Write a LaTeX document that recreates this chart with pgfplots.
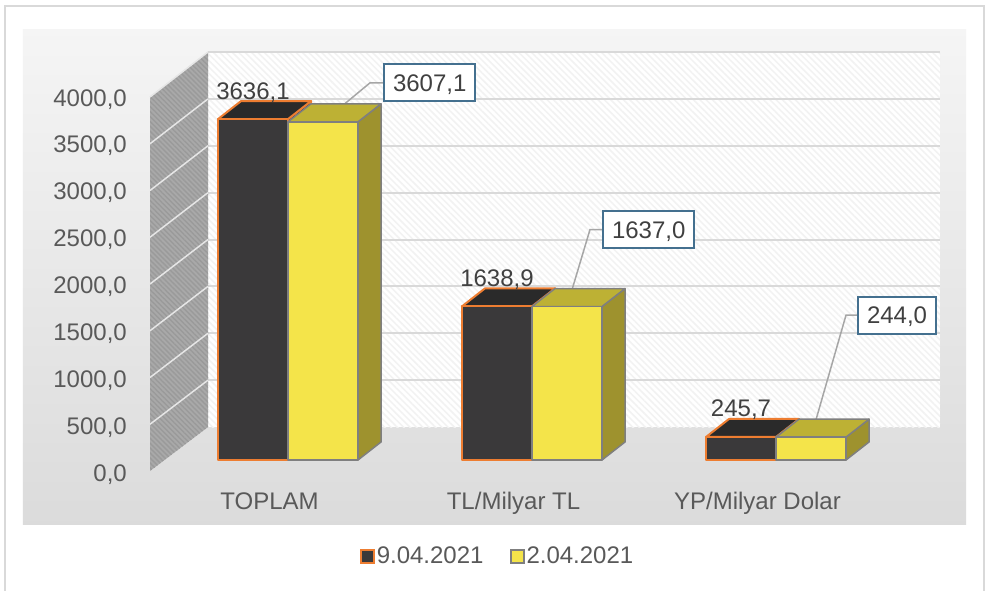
\documentclass[border=0pt]{standalone}
\usepackage{fontspec}
\setmainfont{Liberation Sans}
\usepackage{pgfplots}
\pgfplotsset{compat=1.18}
\usetikzlibrary{patterns.meta}
\pgfdeclarelayer{background}
\pgfsetlayers{background,main}
\definecolor{txt}{HTML}{595959}
\definecolor{lbl}{HTML}{404040}
\definecolor{darkfront}{HTML}{3A393A}
\definecolor{darktop}{HTML}{2A2A2A}
\definecolor{darkside}{HTML}{262626}
\definecolor{orangeedge}{HTML}{ED7D31}
\definecolor{yelfront}{HTML}{F4E44A}
\definecolor{yeltop}{HTML}{BDB134}
\definecolor{yelside}{HTML}{9E922E}
\definecolor{grayedge}{HTML}{7F7F7F}
\definecolor{boxedge}{HTML}{44708F}
\definecolor{leader}{HTML}{A6A6A6}
\definecolor{gridc}{HTML}{D9D9D9}
\definecolor{lwall}{HTML}{A9A9A9}
\definecolor{lwallstripe}{HTML}{9A9A9A}
\definecolor{lwallgrid}{HTML}{E6E6E6}
\definecolor{bwallstripe}{HTML}{F2F2F2}
\definecolor{framec}{HTML}{D9D9D9}
\newcommand{\ff}{\fontsize{24pt}{28pt}\selectfont}
\pgfdeclareplotmark{nothing}{}
% #1 xl, #2 xr, #3 front, #4 top, #5 side, #6 edge colour, #7 edge width
\newcommand{\drawbox}[7]{%
  \pgfmathsetmacro\hh{\rawy*0.09375}%
  \filldraw[fill=#5,draw=#6,line width=#7,line join=round]
    (#2pt,0pt) -- ++(23pt,18pt) -- ++(0pt,-\hh pt) -- ++(-23pt,-18pt) -- cycle;
  \filldraw[fill=#4,draw=#6,line width=#7,line join=round]
    (#1pt,0pt) -- (#2pt,0pt) -- ++(23pt,18pt) -- ++(#1pt-#2pt,0pt) -- cycle;
  \filldraw[fill=#3,draw=#6,line width=#7,line join=round]
    (#1pt,0pt) rectangle (#2pt,-\hh pt);
}
\begin{document}
\begin{tikzpicture}[font=\ff]
\begin{axis}[
  x=244pt, y=0.09375pt,
  xmin=-0.5, xmax=2.5, ymin=0, ymax=4000,
  clip=false,
  axis line style={draw=none},
  major tick length=0pt,
  tick style={draw=none},
  xtick={0,1,2},
  xticklabels={TOPLAM,TL/Milyar TL,YP/Milyar Dolar},
  ytick={0,500,...,4000},
  /pgf/number format/.cd, fixed, fixed zerofill, precision=1, use comma, 1000 sep={}, assume math mode=true,
  /pgfplots/.cd,
  every tick label/.append style={font=\ff, text=txt},
  yticklabel style={anchor=base east, inner sep=0pt, xshift=-39pt, yshift=-21pt},
  xticklabel style={anchor=base, inner sep=0pt, xshift=-18.5pt, yshift=-49pt},
  legend columns=2,
  legend style={at={(0.4529,-0.256)}, anchor=center, draw=none, fill=none,
    font=\ff, text=txt, nodes={inner sep=2pt},
    /tikz/every even column/.append style={column sep=24pt}},
]
\coordinate (O) at (axis cs:0,0);
\addplot[scatter, only marks, mark=nothing,
  visualization depends on={rawy \as \rawy},
  scatter/@pre marker code/.code={\drawbox{-70}{0}{darkfront}{darktop}{darkside}{orangeedge}{2pt}},
  scatter/@post marker code/.code={},
  legend image code/.code={\draw[fill=darkfront,draw=orangeedge,line width=2pt] (0pt,-6.5pt) rectangle (13pt,6.5pt);},
] coordinates {(0,3636.1) (1,1638.9) (2,245.7)};
\addlegendentry{9.04.2021}
\addplot[scatter, only marks, mark=nothing,
  visualization depends on={rawy \as \rawy},
  scatter/@pre marker code/.code={\drawbox{0}{70}{yelfront}{yeltop}{yelside}{grayedge}{1.5pt}},
  scatter/@post marker code/.code={},
  legend image code/.code={\draw[fill=yelfront,draw=grayedge,line width=2pt] (0pt,-6.5pt) rectangle (13pt,6.5pt);},
] coordinates {(0,3607.1) (1,1637.0) (2,244.0)};
\addlegendentry{2.04.2021}
\addplot[only marks, mark=nothing, forget plot, nodes near coords,
  every node near coord/.append style={anchor=base, xshift=-35pt, yshift=20pt, font=\ff, text=lbl, inner sep=0pt},
] coordinates {(0,3636.1) (1,1638.9) (2,245.7)};
\tikzset{vbox/.style={draw=boxedge, line width=2pt, fill=white, anchor=west, inner xsep=9pt,
  minimum height=37pt, text height=17pt, text depth=0pt, text=lbl, font=\ff}}
\draw[leader,line width=1.5pt] ([xshift=35pt]axis cs:0,3607.1) -- ++(47pt,39pt) -- ++(13pt,0pt) node[vbox]{3607,1};
\draw[leader,line width=1.5pt] ([xshift=35pt]axis cs:1,1637.0) -- ++(23pt,77pt) -- ++(12pt,0pt) node[vbox]{1637,0};
\draw[leader,line width=1.5pt] ([xshift=35pt]axis cs:2,244.0) -- ++(35pt,122pt) -- ++(11pt,0pt) node[vbox]{244,0};
\end{axis}
\begin{pgfonlayer}{background}
\begin{scope}[shift={(O)}, xshift=-288pt, yshift=460pt, x=1pt, y=-1pt]
\fill[white] (0,0) rectangle (987,590);
\draw[framec,line width=1.5pt] (5,592) -- (5,6) -- (984,6) -- (984,592);
\shade[top color=white!96!black,bottom color=white!86!black] (23,30) rectangle (966,524);
\path[fill=white,postaction={pattern={Lines[angle=-45,distance=4.5pt,line width=1.5pt]},pattern color=bwallstripe}]
  (208,52) rectangle (940,427);
\foreach \k in {0,...,7}{\draw[gridc,line width=2pt] (208,52+46.875*\k) -- (940,52+46.875*\k);}
\path[fill=lwall,postaction={pattern={Lines[angle=-45,distance=3.5pt,line width=1.4pt]},pattern color=lwallstripe}]
  (150,471) -- (208,427) -- (208,52) -- (150,97) -- cycle;
\foreach \k in {0,...,7}{\draw[lwallgrid,line width=1.5pt] (150,97+46.75*\k) -- (208,52+46.875*\k);}
\end{scope}
\end{pgfonlayer}
\pgfresetboundingbox
\begin{scope}[shift={(O)}, xshift=-288pt, yshift=460pt, x=1pt, y=-1pt]
\path[use as bounding box] (0,0) rectangle (987,590);
\end{scope}
\end{tikzpicture}
\end{document}
